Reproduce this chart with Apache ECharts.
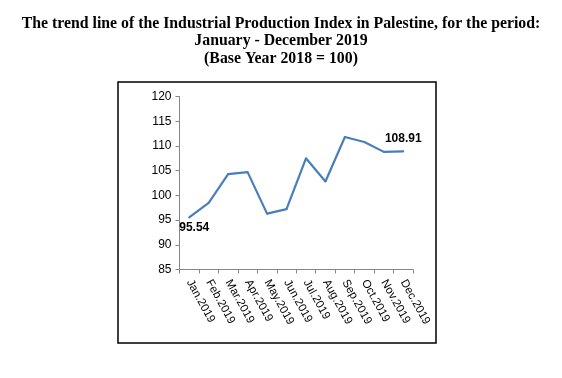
<!DOCTYPE html>
<html>
<head>
<meta charset="utf-8">
<script src="https://cdn.jsdelivr.net/npm/echarts@6/dist/echarts.min.js"></script>
<style>html,body{margin:0;padding:0;background:#fff;}#c{width:562px;height:378px;}</style>
</head>
<body>
<div id="c"></div>
<script>
const categories = ['Jan.2019','Feb.2019','Mar.2019','Apr.2019','May.2019','Jun.2019','Jul.2019','Aug.2019','Sep.2019','Oct.2019','Nov.2019','Dec.2019'];
const values = [95.54, 98.5, 104.3, 104.7, 96.3, 97.2, 107.5, 102.8, 111.8, 110.8, 108.8, 108.91];
const yTicks = [85, 90, 95, 100, 105, 110, 115, 120];
const titleLines = ['The trend line of the Industrial Production Index in Palestine, for the period:', 'January - December 2019', '(Base Year 2018 = 100)'];

const chart = echarts.init(document.getElementById('c'));
const last = values.length - 1;
chart.setOption({
  animation: false,
  backgroundColor: '#fff',
  title: {
    text: titleLines.join('\n'),
    left: 'center',
    top: 10,
    textStyle: { fontFamily: 'Liberation Serif', fontWeight: 'bold', fontSize: 15.8, color: '#000', lineHeight: 17.5 }
  },
  graphic: [{
    type: 'rect',
    shape: { x: 118, y: 82, width: 318, height: 261 },
    style: { fill: 'none', stroke: '#000', lineWidth: 1.5 },
    z: 0
  }],
  grid: { left: 179.5, right: 149, top: 96.5, bottom: 108.5 },
  xAxis: {
    type: 'category',
    data: categories,
    boundaryGap: true,
    axisLine: { lineStyle: { color: '#868686', width: 1 } },
    axisTick: { show: true, alignWithLabel: false, length: 4, lineStyle: { color: '#868686' } },
    axisLabel: { rotate: -61, interval: 0, fontFamily: 'Liberation Sans', fontSize: 11.5, color: '#000', margin: 11 }
  },
  yAxis: {
    type: 'value',
    min: yTicks[0],
    max: yTicks[yTicks.length - 1],
    interval: 5,
    axisLine: { show: true, lineStyle: { color: '#868686', width: 1 } },
    axisTick: { show: true, length: 4, lineStyle: { color: '#868686' } },
    splitLine: { show: false },
    axisLabel: { fontFamily: 'Liberation Sans', fontSize: 12, color: '#000', margin: 8 }
  },
  series: [{
    type: 'line',
    data: values.map((v, i) => {
      if (i === 0) return { value: v, label: { show: true, position: 'bottom', distance: 3, offset: [5, 0] } };
      if (i === last) return { value: v, label: { show: true, position: 'top', distance: 6 } };
      return v;
    }),
    symbol: 'circle',
    symbolSize: 2,
    showSymbol: true,
    itemStyle: { color: '#4A7EBB', borderWidth: 0 },
    lineStyle: { color: '#4A7EBB', width: 2.2 },
    label: { fontFamily: 'Liberation Sans', fontWeight: 'bold', fontSize: 12, color: '#000', formatter: p => Number(p.value).toFixed(2) }
  }]
});
</script>
</body>
</html>
